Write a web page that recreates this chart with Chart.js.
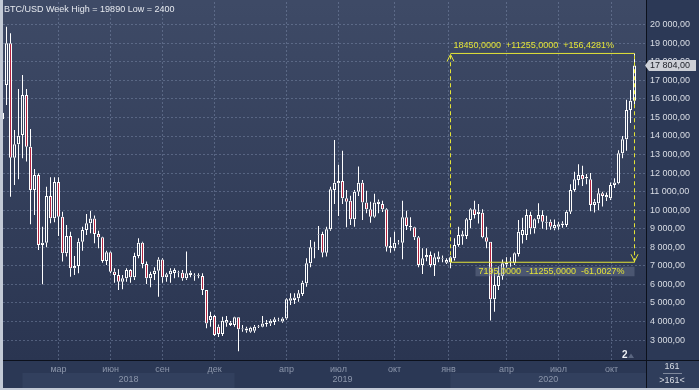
<!DOCTYPE html>
<html>
<head>
<meta charset="utf-8">
<script src="https://cdn.jsdelivr.net/npm/chart.js@4.4.1/dist/chart.umd.min.js"></script>
<style>
  html, body { margin: 0; padding: 0; background: #c3cad6; }
  canvas { display: block; }
</style>
</head>
<body>
<canvas id="chart" width="699" height="390"></canvas>
<script>
// weekly BTC/USD candles
const opens = [
  14900, 16750, 19000, 12830, 13550, 14050, 16210, 13420, 11090, 11900,
  8130, 8250, 10770, 9570, 11520, 9650, 7680, 8610, 6870, 6990,
  8300, 8930, 9300, 9560, 8720, 8540, 7260, 7730, 6690, 6510,
  6150, 6330, 6780, 6390, 7530, 8250, 7100, 6330, 6560, 6740,
  7350, 6390, 6550, 6620, 6610, 6630, 6330, 6510, 6500, 6460,
  6450, 5700, 4080, 4300, 3720, 3330, 3940, 3810, 3820, 4230,
  3580, 3630, 3450, 3510, 3700, 3720, 3870, 3900, 3980, 4080,
  4000, 4170, 5120, 5160, 5250, 5480, 6060, 7140, 8000, 8690,
  8720, 7710, 8970, 11090, 11450, 11580, 10640, 10510, 9510, 11000,
  11480, 10410, 10050, 9650, 10340, 10340, 10050, 7950, 7950, 8240,
  8250, 9620, 9150, 9080, 8540, 7050, 7460, 7590, 7050, 7360,
  7380, 7170, 7200, 7410, 8130, 8580, 8610, 9470, 10050, 9800,
  9870, 8540, 8300, 5200, 5920, 6450, 7070, 7230, 7140, 7640,
  8670, 8670, 9740, 9030, 9510, 9740, 9330, 9380, 9030, 9110,
  9200, 9200, 9920, 11090, 11630, 11900, 11720, 11670, 10280, 10370,
  10910, 10700, 10640, 11360, 11450, 13070, 13820, 15400, 15900
];
const highs = [
  15400, 19890, 19540, 14330, 16530, 17290, 16530, 14380, 12220, 11990,
  9110, 11270, 11780, 11780, 11780, 9920, 9200, 8840, 7530, 8490,
  9110, 9800, 9970, 9710, 8900, 8570, 7820, 7770, 6870, 6820,
  6510, 6870, 6820, 7710, 8490, 8300, 7230, 6690, 6920, 7460,
  7410, 6630, 6870, 6870, 6740, 6780, 7770, 6740, 6600, 6600,
  6600, 5700, 4530, 4350, 3840, 4260, 4300, 4030, 4260, 4230,
  3810, 3720, 3720, 3810, 3810, 4300, 4080, 4120, 4230, 4200,
  4230, 5250, 5520, 5520, 5700, 6200, 7410, 8390, 8300, 9150,
  8840, 9110, 11270, 13790, 12450, 13210, 11090, 10780, 11090, 12350,
  11630, 11050, 10460, 10890, 10580, 10510, 10110, 8540, 8840, 8400,
  10510, 9970, 9620, 9110, 8610, 7950, 7950, 7770, 7680, 7770,
  7560, 7410, 7520, 8490, 9110, 8900, 9580, 10110, 10510, 10340,
  10050, 9110, 8300, 6600, 6960, 7350, 7460, 7460, 7720, 9470,
  9600, 10050, 9920, 9560, 10380, 10000, 9700, 9500, 9500, 9380,
  9400, 10000, 11400, 12080, 12480, 12400, 11950, 12000, 10600, 11180,
  11000, 10950, 11500, 11720, 13230, 14000, 15960, 16480, 18450
];
const lows = [
  14740, 15670, 10730, 11360, 11670, 12800, 12620, 9240, 9740, 7860,
  6010, 8000, 9300, 9350, 8610, 7230, 7500, 6420, 6510, 6600,
  7820, 8660, 8760, 8220, 7950, 7170, 7050, 6600, 6090, 5700,
  5740, 6150, 6090, 6240, 7410, 6870, 6020, 5850, 6240, 5340,
  6090, 6150, 6090, 6330, 6390, 6200, 6240, 6390, 6200, 6330,
  5430, 3640, 3720, 3220, 3160, 3220, 3720, 3760, 3720, 2400,
  3450, 3400, 3400, 3400, 3650, 3690, 3720, 3760, 3810, 4020,
  3940, 4100, 4890, 4940, 5070, 5380, 5880, 6920, 7410, 7860,
  7460, 7500, 8900, 10340, 9690, 10340, 9080, 9200, 9110, 10770,
  9470, 9830, 9330, 9600, 9830, 9910, 7770, 7710, 7820, 8150,
  7360, 8935, 8900, 8390, 6920, 6560, 7250, 6920, 6455, 7200,
  7200, 7100, 6870, 7290, 8030, 8140, 8450, 9030, 9560, 9280,
  8490, 7950, 4050, 4530, 5700, 6250, 6900, 6950, 7050, 7500,
  8200, 8400, 8700, 8750, 9300, 9000, 8950, 8950, 8920, 8950,
  9050, 9100, 9800, 11000, 11350, 11300, 11400, 9950, 9880, 10000,
  10200, 10500, 10550, 11200, 11400, 12800, 13200, 14700, 15700
];
const closes = [
  15250, 19000, 12830, 13550, 14020, 16210, 13420, 11090, 11900, 8130,
  8250, 10770, 9570, 11520, 9650, 7680, 8610, 6870, 6990, 8300,
  8930, 9300, 9560, 8720, 8540, 7260, 7730, 6690, 6510, 6150,
  6330, 6780, 6390, 7530, 8250, 7100, 6330, 6560, 6740, 7350,
  6390, 6550, 6740, 6780, 6640, 6330, 6600, 6630, 6470, 6490,
  5700, 3900, 4300, 3280, 3330, 4040, 4080, 3940, 4230, 3580,
  3630, 3520, 3670, 3720, 3730, 3900, 3940, 4040, 4120, 4100,
  4170, 5200, 5250, 5300, 5520, 6090, 7140, 8000, 8020, 8720,
  7710, 8970, 11130, 11480, 11580, 10640, 10460, 9510, 11000, 11480,
  10410, 10050, 9650, 10410, 10460, 10050, 8030, 8070, 8250, 8260,
  9620, 9150, 9080, 8540, 7050, 7410, 7590, 7050, 7460, 7500,
  7410, 7320, 7460, 8130, 8660, 8700, 9510, 10050, 9740, 9920,
  8540, 8300, 5200, 5970, 6450, 7140, 7170, 7260, 7680, 8840,
  8930, 9740, 9030, 9510, 9740, 9380, 9380, 9110, 9200, 9250,
  9290, 9920, 11090, 11670, 11900, 11670, 11790, 10280, 10460, 10910,
  10770, 10820, 11360, 11500, 13070, 13820, 15400, 15900, 17804
];

// x axis: week index of the first bar of each labelled month
const monthTicks = [14, 27, 40, 53, 71, 84, 98, 111.5, 126, 139, 152.25];
const monthLabels = ["мар", "июн", "сен", "дек", "апр", "июл", "окт", "янв", "апр", "июл", "окт"];
const yearLabels = ["2018", "2019", "2020"];
const yearStarts = [5, 58, 112];
const priceTicks = [3000, 4000, 5000, 6000, 7000, 8000, 9000, 10000, 11000,
  12000, 13000, 14000, 15000, 16000, 17000, 18000, 19000, 20000];

// measured range (yellow box)
const rangeFrom = 112, rangeTo = 158;
const rangeLow = 7195, rangeHigh = 18450;
const barsShown = 161;

const weeks = opens.map((_, i) => i);
const lastPrice = closes[closes.length - 1];

const YELLOW = "#e4e437";
const GRID = "rgba(130,146,178,0.45)";
const FONT = "Liberation Sans";

function money(v) {
  return String(Math.round(v)).replace(/\B(?=(\d{3})+(?!\d))/g, " ") + ",00";
}
function four(v) {
  return v.toFixed(4).replace(".", ",");
}

const bodyData = weeks.map(i => ({ x: i, y: [Math.min(opens[i], closes[i]), Math.max(opens[i], closes[i])] }));
const upperWick = weeks.map(i => ({ x: i, y: [Math.max(opens[i], closes[i]), highs[i]] }));
const lowerWick = weeks.map(i => ({ x: i, y: [lows[i], Math.min(opens[i], closes[i])] }));
const bodyColors = weeks.map(i => closes[i] >= opens[i] ? "rgba(0,0,0,0)" : "#b3233f");

const lineSet = (pts, dash) => ({
  type: "line",
  data: pts,
  borderColor: YELLOW,
  borderWidth: 1,
  borderDash: dash,
  pointRadius: 0,
  tension: 0,
  order: 0
});

// no extra room for edge tick labels, chart area is fixed by layout
const noEdgePadding = s => {
  s.paddingTop = 0; s.paddingBottom = 0; s.paddingLeft = 0; s.paddingRight = 0;
};

const panels = {
  id: "panels",
  beforeDraw(chart) {
    const { ctx, chartArea: a, width, height } = chart;
    ctx.save();
    ctx.fillStyle = "#c3cad6";
    ctx.fillRect(0, 0, width, height);
    const g = ctx.createLinearGradient(0, a.top, 0, a.bottom);
    g.addColorStop(0, "#3e4a66");
    g.addColorStop(1, "#2a3551");
    ctx.fillStyle = g;
    ctx.fillRect(a.left, 0, a.right - a.left, a.bottom);
    ctx.fillStyle = "#2c3956";
    ctx.fillRect(a.right, 0, width - a.right, a.bottom);
    ctx.fillStyle = "#2b3855";
    ctx.fillRect(a.left, a.bottom, a.right - a.left, 388 - a.bottom);
    ctx.fillStyle = "#2f3d5b";
    ctx.fillRect(a.right, a.bottom, width - a.right, 388 - a.bottom);
    // year bands
    const xs = chart.scales.x;
    yearStarts.forEach((s, k) => {
      if (k % 2) return;
      const x0 = Math.max(a.left, xs.getPixelForValue(s));
      const x1 = k + 1 < yearStarts.length ? xs.getPixelForValue(yearStarts[k + 1]) : a.right;
      ctx.fillStyle = "#32405e";
      ctx.fillRect(x0, 373, x1 - x0, 15);
    });
    ctx.restore();
  },
  afterDraw(chart) {
    const { ctx, chartArea: a, width } = chart;
    const xs = chart.scales.x, ys = chart.scales.y;
    ctx.save();
    // separators
    ctx.fillStyle = "#0c111c";
    ctx.fillRect(a.right, 0, 1, 388);
    ctx.fillRect(a.left, a.bottom - 1, width - a.left, 1);

    ctx.font = "9px " + FONT;
    ctx.textBaseline = "middle";

    // year labels
    ctx.fillStyle = "#8c96ab";
    ctx.textAlign = "center";
    yearStarts.forEach((s, k) => {
      const x0 = Math.max(a.left, xs.getPixelForValue(s));
      const x1 = k + 1 < yearStarts.length ? xs.getPixelForValue(yearStarts[k + 1]) : a.right;
      ctx.fillText(yearLabels[k], (x0 + x1) / 2, 380);
    });

    // title
    ctx.textAlign = "left";
    ctx.fillStyle = "#e6e9ef";
    ctx.fillText("BTC/USD Week High = " + Math.max(...highs) + " Low = " + Math.min(...lows), 4, 9.5);

    // range box texts
    const diff = rangeHigh - rangeLow;
    const xl = xs.getPixelForValue(rangeFrom), xr = xs.getPixelForValue(rangeTo);
    const yt = ys.getPixelForValue(rangeHigh), yb = ys.getPixelForValue(rangeLow);
    ctx.fillStyle = YELLOW;
    ctx.fillText(four(rangeHigh) + "  +" + four(diff) + "  +" + four(diff / rangeLow * 100) + "%", xl + 3, yt - 8);
    ctx.fillStyle = "rgba(110,122,146,0.45)";
    ctx.fillRect(xl + 25, yb + 4.5, xr - xl - 25, 9.5);
    ctx.fillStyle = YELLOW;
    ctx.fillText(four(rangeLow) + "  -" + four(diff) + "  -" + four(diff / rangeHigh * 100) + "%", xl + 28, yb + 9.5);
    ctx.strokeStyle = YELLOW;
    ctx.lineWidth = 1;
    ctx.beginPath();
    ctx.moveTo(xl - 3.5, yt + 8); ctx.lineTo(xl, yt + 1); ctx.lineTo(xl + 3.5, yt + 8);
    ctx.moveTo(xr - 3.5, yb - 8); ctx.lineTo(xr, yb - 1); ctx.lineTo(xr + 3.5, yb - 8);
    ctx.stroke();

    // price marker
    const py = Math.round(ys.getPixelForValue(lastPrice)) + 0.5;
    ctx.fillStyle = "#cdd0d6";
    ctx.beginPath();
    ctx.moveTo(a.right - 1, py);
    ctx.lineTo(649, py - 5.5);
    ctx.lineTo(696, py - 5.5);
    ctx.lineTo(696, py + 5.5);
    ctx.lineTo(649, py + 5.5);
    ctx.closePath();
    ctx.fill();
    ctx.fillStyle = "#1b1e26";
    ctx.fillText(money(lastPrice), 650, py + 0.5);

    // pane number
    ctx.fillStyle = "#eef0f4";
    ctx.font = "bold 10px " + FONT;
    ctx.fillText("2", 622, 355);
    ctx.fillStyle = "#5a6680";
    ctx.beginPath();
    ctx.moveTo(628, 358); ctx.lineTo(634, 358); ctx.lineTo(631, 353.5);
    ctx.fill();

    // bar counter
    ctx.font = "9px " + FONT;
    ctx.textAlign = "center";
    ctx.fillStyle = "#d8dce4";
    ctx.fillText(String(barsShown), 672, 367);
    ctx.fillText(">" + barsShown + "<", 672, 381);
    ctx.fillStyle = "#7e889c";
    ctx.fillRect(663, 373, 19, 1);
    ctx.restore();
  }
};

new Chart(document.getElementById("chart"), {
  type: "bar",
  data: {
    datasets: [
      lineSet([{ x: rangeFrom, y: rangeHigh }, { x: rangeTo, y: rangeHigh }], []),
      lineSet([{ x: rangeFrom, y: rangeLow }, { x: rangeTo, y: rangeLow }], []),
      lineSet([{ x: rangeFrom, y: rangeLow }, { x: rangeFrom, y: rangeHigh }], [4, 3]),
      lineSet([{ x: rangeTo, y: rangeLow }, { x: rangeTo, y: rangeHigh }], [4, 3]),
      {
        data: bodyData,
        backgroundColor: bodyColors,
        borderColor: "#ffffff",
        borderWidth: 1,
        borderSkipped: false,
        inflateAmount: 0,
        barThickness: 3,
        grouped: false,
        order: 1
      },
      {
        data: upperWick,
        backgroundColor: "#ffffff",
        borderWidth: 0,
        inflateAmount: 0,
        barThickness: 1,
        grouped: false,
        order: 2
      },
      {
        data: lowerWick,
        backgroundColor: "#ffffff",
        borderWidth: 0,
        inflateAmount: 0,
        barThickness: 1,
        grouped: false,
        order: 2
      }
    ]
  },
  options: {
    responsive: false,
    animation: false,
    devicePixelRatio: 1,
    layout: { padding: { left: 3, top: 2, right: 0, bottom: 0 } },
    plugins: { legend: { display: false }, tooltip: { enabled: false } },
    scales: {
      x: {
        type: "linear",
        min: 0.125,
        max: 160.875,
        offset: false,
        grid: { color: GRID, offset: false, drawTicks: false },
        border: { display: false, dash: [2, 2] },
        afterBuildTicks: s => { s.ticks = monthTicks.map(v => ({ value: v })); },
        afterFit: s => { s.height = 29; noEdgePadding(s); },
        ticks: {
          autoSkip: false,
          maxRotation: 0,
          padding: 3,
          color: "#8c96ab",
          font: { family: FONT, size: 9 },
          callback: (v, i) => monthLabels[i]
        }
      },
      y: {
        position: "right",
        min: 1873,
        max: 21223,
        beginAtZero: false,
        grid: { color: GRID, drawTicks: false },
        border: { display: false, dash: [2, 2] },
        afterBuildTicks: s => { s.ticks = priceTicks.map(v => ({ value: v })); },
        afterFit: s => { s.width = 53; noEdgePadding(s); },
        ticks: {
          autoSkip: false,
          padding: 4,
          color: "#d9dde5",
          font: { family: FONT, size: 9 },
          callback: v => money(v)
        }
      }
    }
  },
  plugins: [panels]
});
</script>
</body>
</html>
